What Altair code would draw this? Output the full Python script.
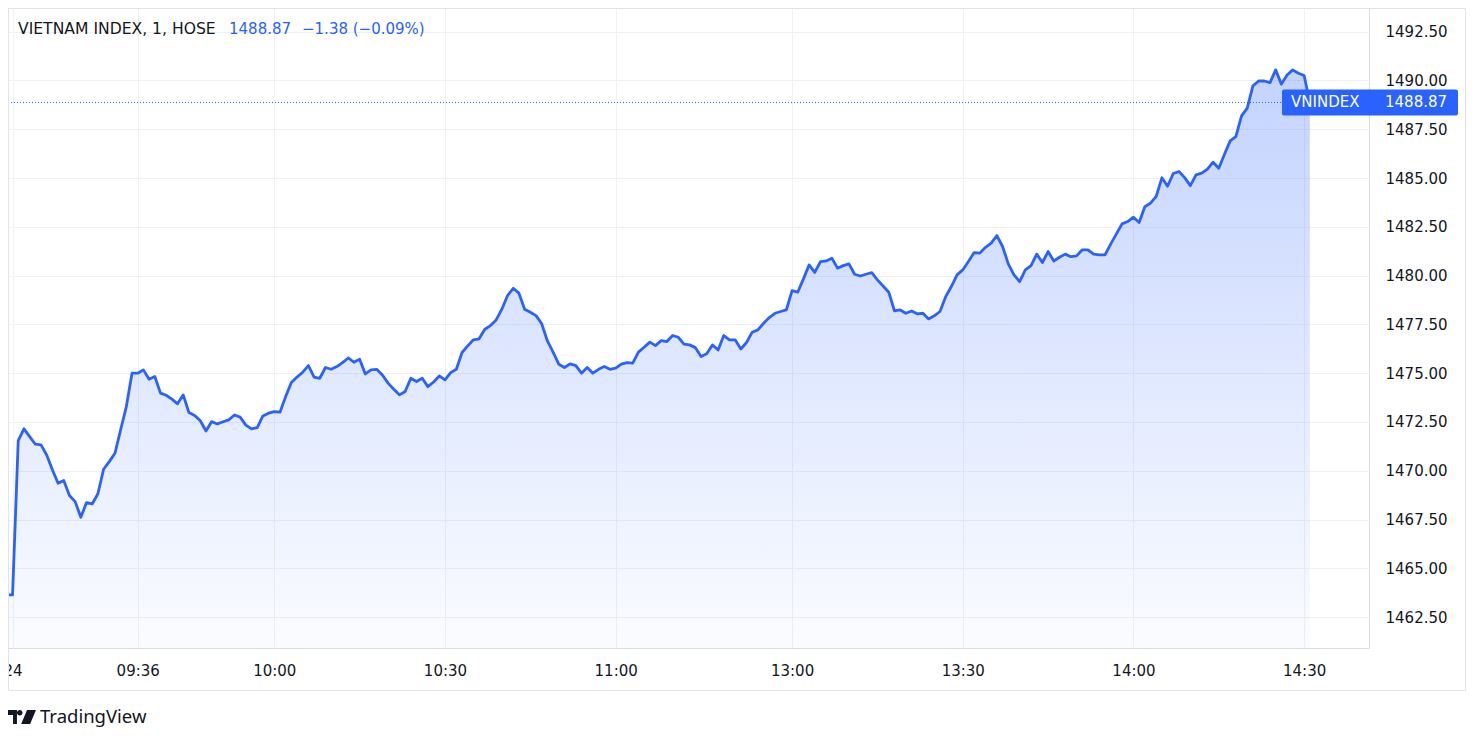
import altair as alt
import pandas as pd

# ---------------- data ----------------
am_start = "09:13"
am_values = [
    1463.64, 1463.64, 1471.55, 1472.15, 1471.75, 1471.36, 1471.33, 1470.81, 1470.05, 1469.36,
    1469.50, 1468.73, 1468.42, 1467.62, 1468.37, 1468.30, 1468.82, 1470.08, 1470.47, 1470.90,
    1472.10, 1473.29, 1475.00, 1475.00, 1475.17, 1474.69, 1474.83, 1473.98, 1473.87, 1473.67,
    1473.43, 1473.89, 1472.98, 1472.83, 1472.56, 1472.04, 1472.52, 1472.40, 1472.51, 1472.61,
    1472.86, 1472.75, 1472.34, 1472.15, 1472.21, 1472.81, 1472.95, 1473.03, 1473.00, 1473.80,
    1474.52, 1474.80, 1475.05, 1475.39, 1474.80, 1474.74, 1475.29, 1475.20, 1475.34, 1475.54,
    1475.78, 1475.56, 1475.72, 1474.96, 1475.17, 1475.20, 1474.91, 1474.49, 1474.18, 1473.89,
    1474.06, 1474.74, 1474.57, 1474.74, 1474.31, 1474.55, 1474.86, 1474.66, 1475.03, 1475.20,
    1476.06, 1476.40, 1476.71, 1476.76, 1477.25, 1477.44, 1477.73, 1478.28, 1478.98, 1479.35,
    1479.10, 1478.28, 1478.12, 1477.95, 1477.53, 1476.65, 1476.08, 1475.46, 1475.29, 1475.48,
    1475.39, 1475.00, 1475.29, 1475.00, 1475.20, 1475.34, 1475.20, 1475.26, 1475.46, 1475.54,
    1475.51, 1476.08, 1476.33, 1476.59, 1476.41, 1476.67, 1476.62, 1476.93, 1476.84, 1476.49,
    1476.45, 1476.31, 1475.85, 1475.99, 1476.45, 1476.19, 1476.93, 1476.71, 1476.71, 1476.24,
    1476.57, 1477.10, 1477.22, 1477.56, 1477.85, 1478.07, 1478.16, 1478.24,
]
pm_start = "13:00"
pm_values = [
    1479.23, 1479.15, 1479.83, 1480.55, 1480.17, 1480.72, 1480.75, 1480.89, 1480.38, 1480.51,
    1480.60, 1480.07, 1479.98, 1480.07, 1480.15, 1479.78, 1479.47, 1479.15, 1478.19, 1478.24,
    1478.07, 1478.19, 1478.04, 1478.07, 1477.78, 1477.94, 1478.16, 1478.92, 1479.44, 1480.04,
    1480.29, 1480.72, 1481.18, 1481.15, 1481.45, 1481.66, 1482.05, 1481.49, 1480.60, 1480.04,
    1479.69, 1480.29, 1480.51, 1481.10, 1480.67, 1481.23, 1480.75, 1480.94, 1481.10, 1480.97,
    1481.01, 1481.32, 1481.32, 1481.10, 1481.06, 1481.06, 1481.61, 1482.14, 1482.65, 1482.77,
    1482.99, 1482.72, 1483.53, 1483.71, 1484.06, 1485.01, 1484.58, 1485.23, 1485.33, 1485.02,
    1484.61, 1485.16, 1485.25, 1485.45, 1485.81, 1485.50, 1486.22, 1486.90, 1487.12, 1488.18,
    1488.58, 1489.72, 1489.97, 1489.97, 1489.89, 1490.54, 1489.81, 1490.28, 1490.54, 1490.37,
    1490.25,
]
atc_time = "14:45"
atc_value = 1488.87

x_tick_times = ["09:14", "09:36", "10:00", "10:30", "11:00", "13:00", "13:30", "14:00", "14:30"]
x_tick_labels = ["24", "09:36", "10:00", "10:30", "11:00", "13:00", "13:30", "14:00", "14:30"]
y_ticks = [1462.5, 1465.0, 1467.5, 1470.0, 1472.5, 1475.0, 1477.5, 1480.0,
           1482.5, 1485.0, 1487.5, 1490.0, 1492.5]

title_main = "VIETNAM INDEX, 1, HOSE"
title_price = "1488.87"
title_change = "\u22121.38 (\u22120.09%)"
symbol_name = "VNINDEX"
last_price_text = "1488.87"
brand = "TradingView"


# ---------------- build table ----------------
def bar_index(hhmm):
    """Position on the trading-minute axis (lunch break removed)."""
    h, m = map(int, hhmm.split(":"))
    k = h * 60 + m - 540
    if h >= 13:
        k -= 89
    return k


def minute_label(start, i):
    h, m = map(int, start.split(":"))
    tot = h * 60 + m + i
    return f"{tot // 60:02d}:{tot % 60:02d}"


rows = []
b0 = bar_index(am_start)
for i, v in enumerate(am_values):
    rows.append({"time": minute_label(am_start, i), "bar": b0 + i, "v": v})
b1 = bar_index(pm_start)
for i, v in enumerate(pm_values):
    rows.append({"time": minute_label(pm_start, i), "bar": b1 + i, "v": v})
rows.append({"time": atc_time, "bar": rows[-1]["bar"] + 1, "v": atc_value})
df = pd.DataFrame(rows)

tick_vals = [bar_index(t) for t in x_tick_times]
label_expr = "''"
for val, lab in reversed(list(zip(tick_vals, x_tick_labels))):
    label_expr = f"datum.value == {val} ? '{lab}' : ({label_expr})"

# ---------------- styling ----------------
W, H = 1361, 640
FONT = "DejaVu Sans"
TXT = "#131722"
BLUE = "#2962FF"
GRID = "#eef1f6"
FRAME = "#e0e3eb"

xscale = alt.Scale(domain=[13.2, 252.4], nice=False, zero=False)
yscale = alt.Scale(domain=[1460.92, 1493.71], nice=False, zero=False)

x_enc = alt.X(
    "bar:Q", scale=xscale,
    axis=alt.Axis(values=tick_vals, labelExpr=label_expr, title=None, grid=True,
                  gridColor=GRID, domain=False, ticks=False, labelPadding=22,
                  labelBaseline="middle", labelFont=FONT, labelFontSize=15,
                  labelColor=TXT, labelFlush=False, labelOverlap=False),
)
y_enc = alt.Y(
    "v:Q", scale=yscale,
    axis=alt.Axis(orient="right", values=y_ticks, format=".2f", title=None, grid=True,
                  gridColor=GRID, domain=False, ticks=False, labelPadding=16,
                  labelAlign="left", labelBaseline="middle", labelFont=FONT,
                  labelFontSize=15, labelColor=TXT),
)

base = alt.Chart(df)

area = base.mark_area(
    clip=True,
    color=alt.Gradient(
        gradient="linear",
        stops=[alt.GradientStop(color="rgba(41,98,255,0.28)", offset=0),
               alt.GradientStop(color="rgba(41,98,255,0.02)", offset=1)],
        x1=0, x2=0, y1=0, y2=1,
    ),
).encode(x=x_enc, y=y_enc, y2=alt.Y2(datum=1460.92))

line = base.mark_line(clip=True, color=BLUE, strokeWidth=2.8, strokeJoin="round").encode(
    x=alt.X("bar:Q", scale=xscale), y=alt.Y("v:Q", scale=yscale)
)

last_df = pd.DataFrame({"v": [atc_value]})
price_line = alt.Chart(last_df).mark_rule(color=BLUE, strokeWidth=1, strokeDash=[1, 2]).encode(
    y=alt.Y("v:Q", scale=yscale), x=alt.value(0), x2=alt.value(1275)
)
price_box = alt.Chart(last_df).mark_rect(color=BLUE, height=26, cornerRadius=2).encode(
    y=alt.Y("v:Q", scale=yscale), x=alt.value(1274), x2=alt.value(1450)
)
price_sym = alt.Chart(last_df).mark_text(
    text=symbol_name, font=FONT, fontSize=15, color="white", align="left", baseline="middle"
).encode(y=alt.Y("v:Q", scale=yscale), x=alt.value(1283))
price_val = alt.Chart(last_df).mark_text(
    text=last_price_text, font=FONT, fontSize=15, color="white", align="left", baseline="middle"
).encode(y=alt.Y("v:Q", scale=yscale), x=alt.value(1377))

one = pd.DataFrame({"k": [0]})
t1 = alt.Chart(one).mark_text(text=title_main, font=FONT, fontSize=15.6, color=TXT,
                              align="left", baseline="middle").encode(x=alt.value(10), y=alt.value(21))
t2 = alt.Chart(one).mark_text(text=title_price, font=FONT, fontSize=15, color=BLUE,
                              align="left", baseline="middle").encode(x=alt.value(221), y=alt.value(21))
t3 = alt.Chart(one).mark_text(text=title_change, font=FONT, fontSize=15, color=BLUE,
                              align="left", baseline="middle").encode(x=alt.value(294), y=alt.value(21))

frame = alt.Chart(one).mark_rect(filled=False, stroke=FRAME, strokeWidth=1).encode(
    x=alt.value(0.5), x2=alt.value(1457.5), y=alt.value(0.5), y2=alt.value(682.5)
)

logo_path = ("M -1 -0.5 L -0.36 -0.5 L -0.36 0.5 L -0.64 0.5 L -0.64 -0.14 L -1 -0.14 Z "
             "M -0.36 -0.3 A 0.2 0.2 0 1 0 0.04 -0.3 A 0.2 0.2 0 1 0 -0.36 -0.3 Z "
             "M 0.36 -0.5 L 1 -0.5 L 0.58 0.5 L -0.06 0.5 Z")
logo = alt.Chart(one).mark_point(shape=logo_path, filled=True, color=TXT, opacity=1, size=784,
                                 strokeWidth=0).encode(x=alt.value(14), y=alt.value(709))
brand_txt = alt.Chart(one).mark_text(text=brand, font="Noto Sans", fontSize=18.5, color=TXT,
                                     align="left", baseline="middle").encode(x=alt.value(32), y=alt.value(709))

chart = alt.layer(
    area, line, price_line, price_box, price_sym, price_val, t1, t2, t3, frame, logo, brand_txt
).properties(
    width=W, height=H,
    autosize=alt.AutoSizeParams(type="none"),
    padding={"left": 0, "top": 0, "right": 100, "bottom": 80},
).configure_view(stroke=FRAME, strokeWidth=1).configure(background="white")

chart.save("out.html", embed_options={"renderer": "svg", "actions": False})
